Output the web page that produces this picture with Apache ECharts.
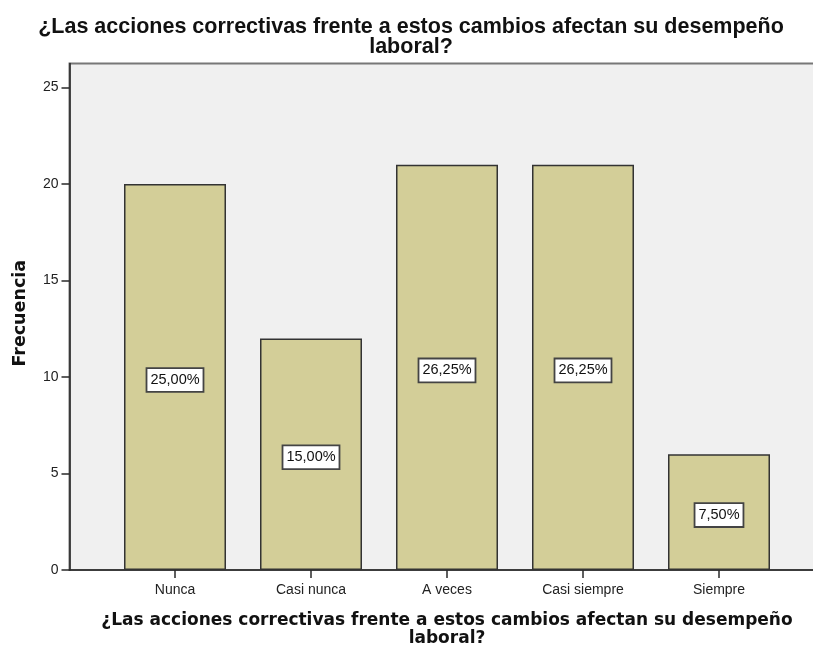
<!DOCTYPE html>
<html>
<head>
<meta charset="utf-8">
<script src="https://cdn.jsdelivr.net/npm/echarts@6/dist/echarts.min.js"></script>
<style>
  html, body { margin: 0; padding: 0; background: #fff; }
  #chart { width: 813px; height: 648px; }
</style>
</head>
<body>
<div id="chart"></div>
<script>
// Frequency of answers per category
const categories = ['Nunca', 'Casi nunca', 'A veces', 'Casi siempre', 'Siempre'];
const counts = [20, 12, 21, 21, 6];
const yTicks = [0, 5, 10, 15, 20, 25];

const titleText = '¿Las acciones correctivas frente a estos cambios afectan su desempeño\nlaboral?';
const total = counts.reduce((a, b) => a + b, 0);

function pctLabel(v) {
  return (v / total * 100).toFixed(2).replace('.', ',') + '%';
}

const chart = echarts.init(document.getElementById('chart'));

chart.setOption({
  animation: false,
  backgroundColor: '#ffffff',
  title: {
    text: titleText,
    left: 406,
    top: 12,
    textAlign: 'center',
    textStyle: {
      fontFamily: 'Liberation Sans',
      fontWeight: 'bold',
      fontSize: 21.5,
      lineHeight: 20,
      color: '#111'
    }
  },
  grid: [
    // plot frame and background
    {
      left: 69.5, top: 63.5, right: -30, bottom: 78,
      outerBoundsMode: 'none',
      containLabel: false,
      show: true,
      backgroundColor: '#f0f0f0',
      borderColor: '#777',
      borderWidth: 2
    },
    // bar area
    {
      left: 107, top: 63.5, width: 680, bottom: 78,
      outerBoundsMode: 'none',
      containLabel: false
    }
  ],
  xAxis: [
    {
      gridIndex: 0, type: 'value', min: 0, max: 1,
      axisLine: { show: true, onZero: false, lineStyle: { color: '#2a2a2a', width: 1.6 } },
      axisTick: { show: false }, axisLabel: { show: false }, splitLine: { show: false }
    },
    {
      gridIndex: 1, type: 'category', data: categories,
      axisLine: { show: false },
      axisTick: { show: true, alignWithLabel: true, length: 8, lineStyle: { color: '#2a2a2a', width: 1.5 } },
      axisLabel: {
        margin: 13, fontFamily: 'Liberation Sans', fontSize: 14, color: '#222'
      },
      name: titleText,
      nameLocation: 'middle',
      nameGap: 42,
      nameTextStyle: {
        fontFamily: 'DejaVu Sans', fontWeight: 'bold', fontSize: 17,
        lineHeight: 18, color: '#111'
      }
    }
  ],
  yAxis: [
    {
      gridIndex: 0, type: 'value', min: 0, max: 1, show: false
    },
    {
      gridIndex: 1, type: 'value', min: 0, max: 26.25, interval: 5,
      offset: 37.5,
      axisLine: { show: true, lineStyle: { color: '#2a2a2a', width: 1.6 } },
      axisTick: {
        show: true, length: 8, customValues: yTicks,
        lineStyle: { color: '#2a2a2a', width: 1.5 }
      },
      axisLabel: {
        margin: 11, fontFamily: 'Liberation Sans', fontSize: 14, color: '#222',
        customValues: yTicks
      },
      splitLine: { show: false },
      name: 'Frecuencia',
      nameLocation: 'middle',
      nameRotate: 90,
      nameGap: 40,
      nameTextStyle: {
        fontFamily: 'DejaVu Sans', fontWeight: 'bold', fontSize: 17.5, color: '#111',
        padding: [0, 0, 0, 7]
      }
    }
  ],
  series: [
    {
      type: 'bar',
      xAxisIndex: 1,
      yAxisIndex: 1,
      data: counts,
      barWidth: '75%',
      itemStyle: {
        color: '#d3ce98',
        borderColor: '#333',
        borderWidth: 1.5
      },
      label: {
        show: true,
        position: 'inside',
        offset: [0, 3],
        formatter: p => pctLabel(p.value),
        fontFamily: 'Liberation Sans',
        fontSize: 14.5,
        color: '#111',
        backgroundColor: '#ffffff',
        borderColor: '#444',
        borderWidth: 1.8,
        padding: [4, 3, 3, 3]
      }
    }
  ]
});
</script>
</body>
</html>
